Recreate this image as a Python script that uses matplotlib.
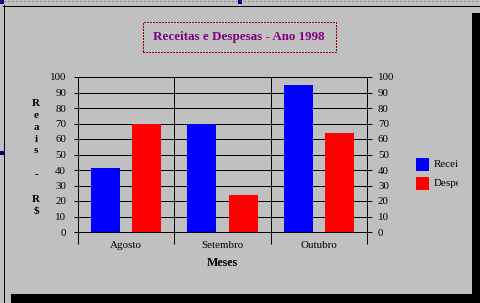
import matplotlib
matplotlib.use('Agg')
import matplotlib.pyplot as plt
from matplotlib.patches import Rectangle
from matplotlib.lines import Line2D
from matplotlib.transforms import Bbox
import numpy as np

# data
meses = ['Agosto', 'Setembro', 'Outubro']
receitas = [41, 70, 95]
despesas = [70, 24, 64]
series_names = ['Receitas', 'Despesas']
series_colors = ['#0000FF', '#FF0000']
titulo = 'Receitas e Despesas - Ano 1998'
ylabel = 'Reais - R$'
xlabel = 'Meses'
yticks = list(range(0, 101, 10))

W, H = 480, 303
DPI = 72
plt.rcParams['font.family'] = ['Liberation Serif', 'DejaVu Serif']

fig = plt.figure(figsize=(W / DPI, H / DPI), dpi=DPI)
fig.patch.set_facecolor('#C0C0C0')


def fx(x):
    return x / W


def fy(y):
    return 1 - y / H


# plot area in pixels: left 78, right 367, top 77, bottom 232
ax = fig.add_axes([fx(78), fy(232), fx(367) - fx(78), fy(77) - fy(232)])
ax.set_facecolor('#C0C0C0')
ax.set_axisbelow(True)

x = np.arange(len(meses)) + 0.5
ax.bar(x - 0.215, receitas, width=0.3, color=series_colors[0], linewidth=0)
ax.bar(x + 0.215, despesas, width=0.3, color=series_colors[1], linewidth=0)

ax.set_xlim(0, len(meses))
ax.set_ylim(0, 100)
ax.set_yticks(yticks)
ax.set_yticklabels([str(v) for v in yticks])
ax.set_xticks(np.arange(len(meses) + 1))
ax.set_xticklabels([])
ax.set_xticks(x, minor=True)
ax.set_xticklabels(meses, minor=True, fontsize=11)

ax.tick_params(axis='x', which='major', length=12, width=1, direction='out', color='black')
ax.tick_params(axis='x', which='minor', length=0, pad=9)
ax.tick_params(axis='y', length=4, width=1, direction='out', pad=8, labelsize=11)
ax.grid(axis='y', color='black', linewidth=1)
ax.grid(axis='x', which='major', color='black', linewidth=1)
for s in ['left', 'right', 'bottom']:
    ax.spines[s].set_linewidth(1)
ax.spines['top'].set_visible(False)

ax2 = ax.twinx()
ax2.set_ylim(0, 100)
ax2.set_yticks(yticks)
ax2.set_yticklabels([str(v) for v in yticks])
ax2.tick_params(axis='y', length=5, width=1, direction='out', pad=6, labelsize=11)
for s in ['left', 'top', 'bottom']:
    ax2.spines[s].set_visible(False)
ax2.spines['right'].set_linewidth(1)

# x label
fig.text(fx(222.5), fy(263), xlabel, ha='center', va='center', fontsize=12,
         fontweight='bold')

# y label, stacked characters
for i, ch in enumerate(ylabel):
    if ch != ' ':
        fig.text(fx(36), fy(103 + 12 * i), ch, ha='center', va='center',
                 fontsize=11, fontweight='bold')

# title box
fig.add_artist(Rectangle((fx(142.5), fy(52.5)), fx(335) - fx(142), fy(22) - fy(52),
                         transform=fig.transFigure, facecolor='none',
                         edgecolor='#A00000', linewidth=1, linestyle=(0, (1, 1)),
                         antialiased=False))
fig.text(fx(238.5), fy(37), titulo, ha='center', va='center', fontsize=13,
         fontweight='bold', color='#800080')

# legend (text clipped at the box edge)
clip = Bbox([[416, 0], [458, H]])
for i, (name, col) in enumerate(zip(series_names, series_colors)):
    top = 158 + 19 * i
    fig.add_artist(Rectangle((fx(416), fy(top + 13)), fx(13), 13 / H,
                             transform=fig.transFigure, facecolor=col,
                             edgecolor='none'))
    t = fig.text(fx(434), fy(top + 6.5), name, ha='left', va='center', fontsize=11)
    t.set_clip_box(clip)
    t.set_clip_on(True)

# window frame and shadow
fig.add_artist(Line2D([fx(3.5), fx(3.5)], [fy(5), fy(303)], transform=fig.transFigure,
                      color='black', linewidth=1))
fig.add_artist(Line2D([fx(3), fx(480)], [fy(5.5), fy(5.5)], transform=fig.transFigure,
                      color='black', linewidth=1))
fig.add_artist(Rectangle((fx(472), 0), fx(8), fy(13), transform=fig.transFigure,
                         facecolor='black', edgecolor='none'))
fig.add_artist(Rectangle((fx(11), 0), fx(469), fy(294),
                         transform=fig.transFigure, facecolor='black', edgecolor='none'))
fig.add_artist(Line2D([0, 1], [fy(0.5), fy(0.5)], transform=fig.transFigure,
                      color='#404040', linewidth=1, linestyle=(0, (1, 3))))
for hx, hy in [(0, 0), (238, 0), (0, 151)]:
    fig.add_artist(Rectangle((fx(hx), fy(hy + 4)), fx(4), 4 / H, transform=fig.transFigure,
                             facecolor='#000080', edgecolor='none'))

fig.savefig('out.png', dpi=DPI, facecolor=fig.get_facecolor())
